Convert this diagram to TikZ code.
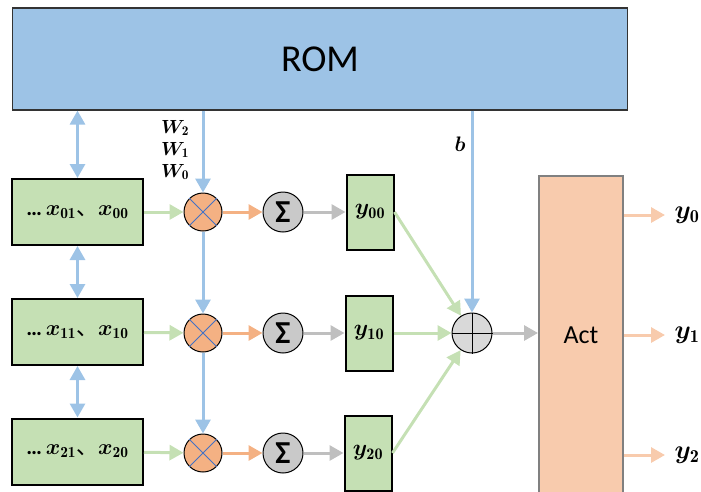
\RequirePackage{fix-cm}
\documentclass[tikz,border=0pt]{standalone}
\usepackage{amsmath}
\usepackage{bm}
\usepackage{fontspec}
\usepackage{tikz}
\usetikzlibrary{arrows.meta}

\newfontfamily\calibri{Carlito}
\newfontfamily\cjk{Noto Sans CJK SC}

\definecolor{romblue}{HTML}{9DC3E6}
\definecolor{boxgreen}{HTML}{C5E0B4}
\definecolor{mulorange}{HTML}{F4B183}
\definecolor{actpeach}{HTML}{F8CBAD}
\definecolor{crossblue}{HTML}{4472C4}
\definecolor{sumgray}{HTML}{C9C9C9}
\definecolor{addgray}{HTML}{D9D9D9}
\definecolor{arrgray}{HTML}{BFBFBF}

\tikzset{
    xbox/.style={rectangle, draw, line width=2pt, fill=boxgreen, minimum width=131pt, minimum height=66pt, inner sep=0pt, font=\fontsize{22}{26}\selectfont},
    ybox/.style={rectangle, draw, line width=2pt, fill=boxgreen, minimum width=47pt, minimum height=75pt, inner sep=0pt, font=\fontsize{23}{26}\selectfont},
    mulnode/.style={circle, draw, line width=1pt, fill=mulorange, minimum size=38pt, inner sep=0pt},
    sumnode/.style={circle, draw, line width=1pt, fill=sumgray, minimum size=40pt, inner sep=0pt, font=\calibri\bfseries\fontsize{32}{32}\selectfont},
    addnode/.style={circle, draw, line width=1pt, fill=addgray, minimum size=40pt, inner sep=0pt},
    outlab/.style={font=\fontsize{26}{28}\selectfont},
    flow/.style={line width=3pt, -{Triangle[length=14pt, width=15pt]}},
    both/.style={line width=3pt, {Triangle[length=14pt, width=15pt]}-{Triangle[length=14pt, width=15pt]}}
}

\begin{document}
\begin{tikzpicture}[x=1pt, y=-1pt]
        \useasboundingbox (0, 0) rectangle (701, 491);

        % memory and activation blocks
        \node[rectangle, draw=black!80, line width=1.2pt, fill=romblue, minimum width=615pt, minimum height=102pt, inner sep=0pt, font=\calibri\fontsize{38}{38}\selectfont] (rom) at (320, 59) {ROM};
        \node[rectangle, draw=black!50, line width=2pt, fill=actpeach, minimum width=84pt, minimum height=319pt, inner sep=0pt, font=\calibri\fontsize{26}{26}\selectfont] (act) at (581, 335.5) {Act};

        % inputs
        \node[xbox] (x0) at (77.5, 212) {{\calibri\bfseries …\,}$\bm{x}_{\mathbf{01}}${\cjk 、}$\bm{x}_{\mathbf{00}}$};
        \node[xbox] (x1) at (77.5, 332) {{\calibri\bfseries …\,}$\bm{x}_{\mathbf{11}}${\cjk 、}$\bm{x}_{\mathbf{10}}$};
        \node[xbox] (x2) at (77.5, 451.5) {{\calibri\bfseries …\,}$\bm{x}_{\mathbf{21}}${\cjk 、}$\bm{x}_{\mathbf{20}}$};

        % multipliers, sums, partial results
        \node[mulnode] (m0) at (203, 212) {};
        \node[mulnode] (m1) at (203, 333) {};
        \node[mulnode] (m2) at (203, 453) {};
        \node[sumnode] (s0) at (283, 212) {Σ};
        \node[sumnode] (s1) at (283, 333) {Σ};
        \node[sumnode] (s2) at (283, 453) {Σ};
        \node[ybox] (y0) at (370, 212) {$\bm{y}_{\mathbf{00}}$};
        \node[ybox] (y1) at (369, 333) {$\bm{y}_{\mathbf{10}}$};
        \node[ybox] (y2) at (368, 453) {$\bm{y}_{\mathbf{20}}$};

        \node[addnode] (add) at (472, 333) {};

        \node[outlab] (o0) at (687, 215) {$\bm{y}_{\mathbf{0}}$};
        \node[outlab] (o1) at (687, 335) {$\bm{y}_{\mathbf{1}}$};
        \node[outlab] (o2) at (687, 455) {$\bm{y}_{\mathbf{2}}$};

        \node[align=center, font=\fontsize{19}{22}\selectfont] (w) at (175, 150) {$\bm{W}_{\mathbf{2}}$\\$\bm{W}_{\mathbf{1}}$\\$\bm{W}_{\mathbf{0}}$};
        \node[font=\fontsize{21}{24}\selectfont] (b) at (460, 144) {$\bm{b}$};

        % crosses in the circles
        \draw[crossblue, line width=0.8pt] (m0.north west) to (m0.south east)
            (m0.north east) to (m0.south west)
            (m1.north west) to (m1.south east)
            (m1.north east) to (m1.south west)
            (m2.north west) to (m2.south east)
            (m2.north east) to (m2.south west);
        \draw[line width=1pt] (add.north) to (add.south)
            (add.west) to (add.east);

        % data flow
        \draw[both, romblue] (rom.south -| x0.north) to (x0.north);
        \draw[both, romblue] (x0) to (x1);
        \draw[both, romblue] (x1) to (x2);
        \draw[flow, romblue] (rom.south -| m0.north) to (m0.north);
        \draw[flow, romblue] (m0) to (m1);
        \draw[flow, romblue] (m1) to (m2);
        \draw[flow, romblue] (rom.south -| add.north) to (add.north);

        \draw[flow, boxgreen] (x0) to (m0);
        \draw[flow, boxgreen] (x1) to (m1);
        \draw[flow, boxgreen] (x2) to (m2);
        \draw[flow, mulorange] (m0) to (s0);
        \draw[flow, mulorange] (m1) to (s1);
        \draw[flow, mulorange] (m2) to (s2);
        \draw[flow, arrgray] (s0) to (y0);
        \draw[flow, arrgray] (s1) to (y1);
        \draw[flow, arrgray] (s2) to (y2);

        \draw[flow, boxgreen] (y0.east) to (add);
        \draw[flow, boxgreen] (y1.east) to (add);
        \draw[flow, boxgreen] (y2.east) to (add);
        \draw[flow, arrgray] (add) to (add -| act.west);

        \draw[flow, actpeach, shorten >=6pt] (act.east |- o0) to (o0);
        \draw[flow, actpeach, shorten >=6pt] (act.east |- o1) to (o1);
        \draw[flow, actpeach, shorten >=6pt] (act.east |- o2) to (o2);
    \end{tikzpicture}
\end{document}
